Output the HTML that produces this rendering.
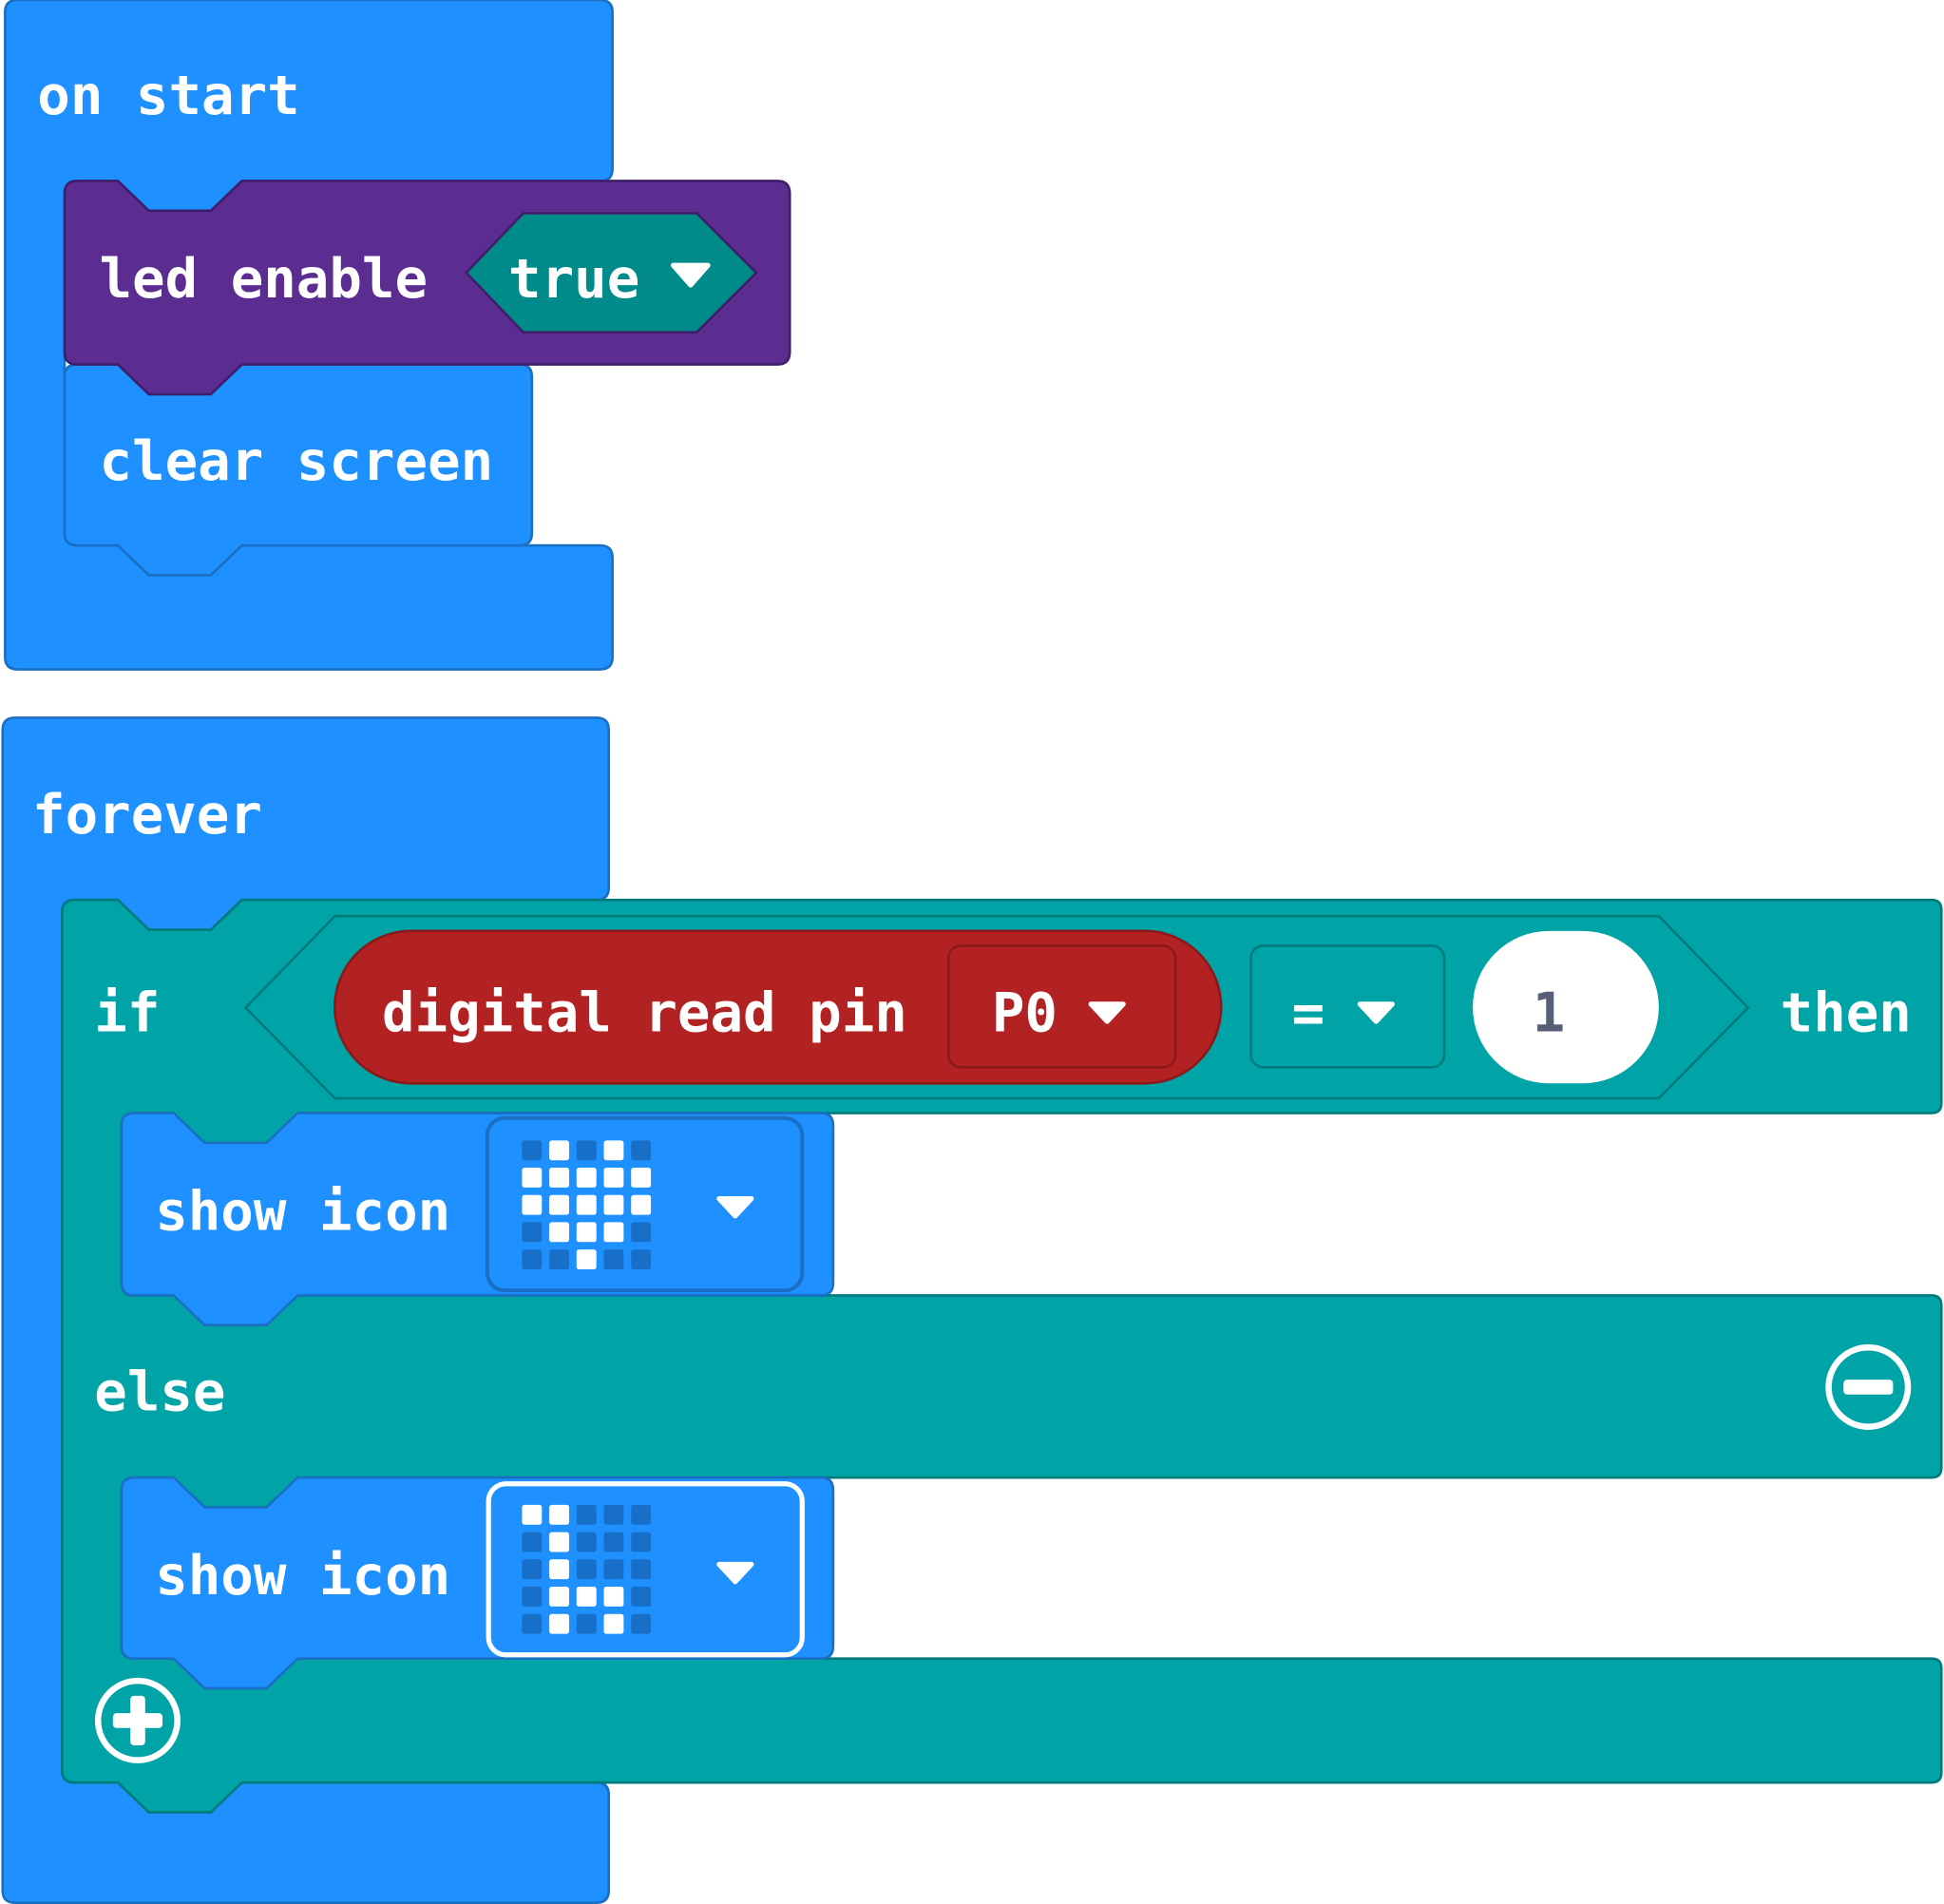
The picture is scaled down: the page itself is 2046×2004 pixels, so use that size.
<!DOCTYPE html>
<html><head><meta charset="utf-8"><style>
html,body{margin:0;padding:0;background:#fff;}
svg{display:block;}
text{font-family:"DejaVu Sans Mono","Liberation Mono",monospace;font-weight:bold;font-size:44px;fill:#fff;}
</style></head><body>
<svg width="2046" height="2004" viewBox="0 0 1568 1536" xmlns="http://www.w3.org/2000/svg">
<!-- on start -->
<path d="M4,10 Q4,0 14,0 L484,0 Q494,0 494,10 L494,136 Q494,146 484,146 L195,146 L170,170 L120,170 L95,146 L62,146 Q52,146 52,156 L52,430 Q52,440 62,440 L95,440 L120,464 L170,464 L195,440 L484,440 Q494,440 494,450 L494,530 Q494,540 484,540 L14,540 Q4,540 4,530 Z" fill="#1E90FF" stroke="#1a6fc4" stroke-width="2"/>
<text x="30" y="92">on start</text>
<!-- clear screen -->
<path d="M52,304 Q52,294 62,294 L95,294 L120,318 L170,318 L195,294 L419,294 Q429,294 429,304 L429,430 Q429,440 419,440 L195,440 L170,464 L120,464 L95,440 L62,440 Q52,440 52,430 Z" fill="#1E90FF" stroke="#1a6fc4" stroke-width="2"/>
<text x="80" y="387">clear screen</text>
<!-- led enable -->
<path d="M52,156 Q52,146 62,146 L95,146 L120,170 L170,170 L195,146 L627,146 Q637,146 637,156 L637,284 Q637,294 627,294 L195,294 L170,318 L120,318 L95,294 L62,294 Q52,294 52,284 Z" fill="#5C2D91" stroke="#3e1e6a" stroke-width="2"/>
<text x="80" y="240">led enable</text>
<polygon points="376,220 422,172 562,172 610,220 562,268 422,268" fill="#008B8B" stroke="#3e1e6a" stroke-width="2"/>
<text x="410" y="240">true</text>
<path d="M543,214 L571,214 L557,230 Z" fill="#fff" stroke="#fff" stroke-width="4" stroke-linejoin="round"/>

<!-- forever -->
<path d="M2,589 Q2,579 12,579 L481,579 Q491,579 491,589 L491,716 Q491,726 481,726 L195,726 L170,750 L120,750 L95,726 L60,726 Q50,726 50,736 L50,1428 Q50,1438 60,1438 L95,1438 L120,1462 L170,1462 L195,1438 L481,1438 Q491,1438 491,1448 L491,1525 Q491,1535 481,1535 L12,1535 Q2,1535 2,1525 Z" fill="#1E90FF" stroke="#1a6fc4" stroke-width="2"/>
<text x="26" y="672">forever</text>
<!-- if block -->
<path d="M50,736 Q50,726 60,726 L95,726 L120,750 L170,750 L195,726 L1558,726 Q1566,726 1566,734 L1566,890 Q1566,898 1558,898 L240,898 L215,922 L165,922 L140,898 L108,898 Q98,898 98,908 L98,1035 Q98,1045 108,1045 L140,1045 L165,1069 L215,1069 L240,1045 L1558,1045 Q1566,1045 1566,1053 L1566,1184 Q1566,1192 1558,1192 L240,1192 L215,1216 L165,1216 L140,1192 L108,1192 Q98,1192 98,1202 L98,1328 Q98,1338 108,1338 L140,1338 L165,1362 L215,1362 L240,1338 L1558,1338 Q1566,1338 1566,1346 L1566,1430 Q1566,1438 1558,1438 L195,1438 L170,1462 L120,1462 L95,1438 L60,1438 Q50,1438 50,1428 Z" fill="#00A4A6" stroke="#007b7c" stroke-width="2"/>
<text x="76" y="832">if</text>
<polygon points="198,813 270,739 1338,739 1410,813 1338,886 270,886" fill="#00A4A6" stroke="#007b7c" stroke-width="2"/>
<rect x="270" y="751" width="715" height="123" rx="61.5" fill="#B22222" stroke="#8a1a1a" stroke-width="2"/>
<text x="308" y="832">digital read pin</text>
<rect x="765" y="763" width="183" height="98" rx="10" fill="#B22222" stroke="#8a1a1a" stroke-width="2"/>
<text x="800" y="832">P0</text>
<path d="M880,810 L906,810 L893,824 Z" fill="#fff" stroke="#fff" stroke-width="4" stroke-linejoin="round"/>
<rect x="1009" y="763" width="156" height="98" rx="10" fill="#00A4A6" stroke="#007b7c" stroke-width="2"/>
<text x="1042" y="832">=</text>
<path d="M1097,810 L1123,810 L1110,824 Z" fill="#fff" stroke="#fff" stroke-width="4" stroke-linejoin="round"/>
<rect x="1188" y="751" width="150" height="123" rx="61.5" fill="#fff"/>
<text x="1236" y="832" style="fill:#575e75">1</text>
<text x="1436" y="832">then</text>

<!-- show icon 1 -->
<path d="M98,908 Q98,898 108,898 L140,898 L165,922 L215,922 L240,898 L662,898 Q672,898 672,908 L672,1035 Q672,1045 662,1045 L240,1045 L215,1069 L165,1069 L140,1045 L108,1045 Q98,1045 98,1035 Z" fill="#1E90FF" stroke="#1a6fc4" stroke-width="2"/>
<text x="125" y="992">show icon</text>
<rect x="393" y="902" width="254" height="139" rx="14" fill="#1E90FF" stroke="#1a6fc4" stroke-width="3"/>
<g fill="#176fc8">
<rect x="421" y="920" width="16" height="16" rx="2"/><rect x="465" y="920" width="16" height="16" rx="2"/><rect x="509" y="920" width="16" height="16" rx="2"/>
<rect x="421" y="986" width="16" height="16" rx="2"/><rect x="509" y="986" width="16" height="16" rx="2"/>
<rect x="421" y="1008" width="16" height="16" rx="2"/><rect x="443" y="1008" width="16" height="16" rx="2"/><rect x="487" y="1008" width="16" height="16" rx="2"/><rect x="509" y="1008" width="16" height="16" rx="2"/>
</g>
<g fill="#fff">
<rect x="443" y="920" width="16" height="16" rx="2"/><rect x="487" y="920" width="16" height="16" rx="2"/>
<rect x="421" y="942" width="16" height="16" rx="2"/><rect x="443" y="942" width="16" height="16" rx="2"/><rect x="465" y="942" width="16" height="16" rx="2"/><rect x="487" y="942" width="16" height="16" rx="2"/><rect x="509" y="942" width="16" height="16" rx="2"/>
<rect x="421" y="964" width="16" height="16" rx="2"/><rect x="443" y="964" width="16" height="16" rx="2"/><rect x="465" y="964" width="16" height="16" rx="2"/><rect x="487" y="964" width="16" height="16" rx="2"/><rect x="509" y="964" width="16" height="16" rx="2"/>
<rect x="443" y="986" width="16" height="16" rx="2"/><rect x="465" y="986" width="16" height="16" rx="2"/><rect x="487" y="986" width="16" height="16" rx="2"/>
<rect x="465" y="1008" width="16" height="16" rx="2"/>
</g>
<path d="M580,967 L606,967 L593,981 Z" fill="#fff" stroke="#fff" stroke-width="4" stroke-linejoin="round"/>

<text x="76" y="1138">else</text>
<circle cx="1507" cy="1119" r="32" fill="none" stroke="#fff" stroke-width="5"/>
<rect x="1487" y="1113" width="40" height="12" rx="3" fill="#fff"/>

<!-- show icon 2 -->
<path d="M98,1202 Q98,1192 108,1192 L140,1192 L165,1216 L215,1216 L240,1192 L662,1192 Q672,1192 672,1202 L672,1328 Q672,1338 662,1338 L240,1338 L215,1362 L165,1362 L140,1338 L108,1338 Q98,1338 98,1328 Z" fill="#1E90FF" stroke="#1a6fc4" stroke-width="2"/>
<text x="125" y="1286">show icon</text>
<rect x="394" y="1197" width="253" height="138" rx="14" fill="#1E90FF" stroke="#fff" stroke-width="4"/>
<g fill="#176fc8">
<rect x="465" y="1214" width="16" height="16" rx="2"/><rect x="487" y="1214" width="16" height="16" rx="2"/><rect x="509" y="1214" width="16" height="16" rx="2"/>
<rect x="421" y="1236" width="16" height="16" rx="2"/><rect x="465" y="1236" width="16" height="16" rx="2"/><rect x="487" y="1236" width="16" height="16" rx="2"/><rect x="509" y="1236" width="16" height="16" rx="2"/>
<rect x="421" y="1258" width="16" height="16" rx="2"/><rect x="465" y="1258" width="16" height="16" rx="2"/><rect x="487" y="1258" width="16" height="16" rx="2"/><rect x="509" y="1258" width="16" height="16" rx="2"/>
<rect x="421" y="1280" width="16" height="16" rx="2"/><rect x="509" y="1280" width="16" height="16" rx="2"/>
<rect x="421" y="1302" width="16" height="16" rx="2"/><rect x="465" y="1302" width="16" height="16" rx="2"/><rect x="509" y="1302" width="16" height="16" rx="2"/>
</g>
<g fill="#fff">
<rect x="421" y="1214" width="16" height="16" rx="2"/><rect x="443" y="1214" width="16" height="16" rx="2"/>
<rect x="443" y="1236" width="16" height="16" rx="2"/>
<rect x="443" y="1258" width="16" height="16" rx="2"/>
<rect x="443" y="1280" width="16" height="16" rx="2"/><rect x="465" y="1280" width="16" height="16" rx="2"/><rect x="487" y="1280" width="16" height="16" rx="2"/>
<rect x="443" y="1302" width="16" height="16" rx="2"/><rect x="487" y="1302" width="16" height="16" rx="2"/>
</g>
<path d="M580,1262 L606,1262 L593,1276 Z" fill="#fff" stroke="#fff" stroke-width="4" stroke-linejoin="round"/>

<circle cx="111" cy="1388" r="32" fill="none" stroke="#fff" stroke-width="5"/>
<rect x="91" y="1382" width="40" height="12" rx="3" fill="#fff"/>
<rect x="105" y="1368" width="12" height="40" rx="3" fill="#fff"/>
</svg>
</body></html>
